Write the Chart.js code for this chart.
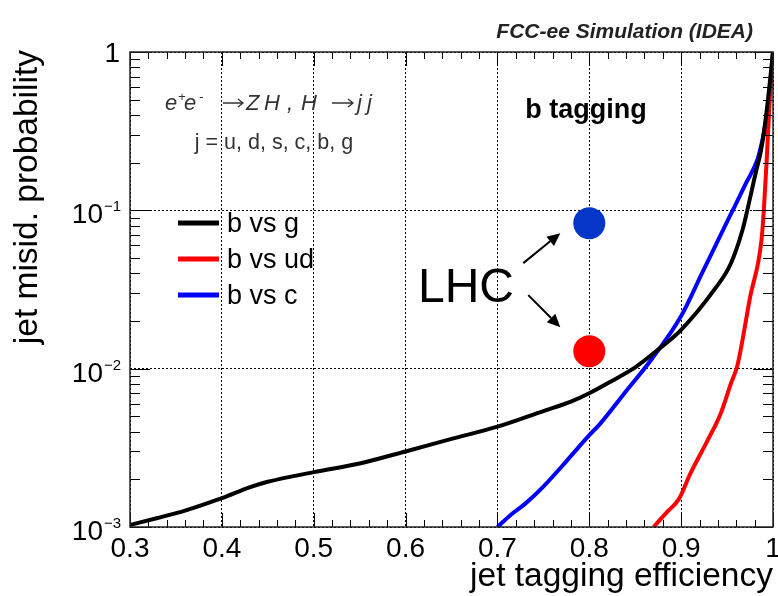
<!DOCTYPE html>
<html>
<head>
<meta charset="utf-8">
<script src="https://cdn.jsdelivr.net/npm/chart.js@4.4.0/dist/chart.umd.min.js"></script>
<style>
  html, body { margin: 0; padding: 0; background: #fff; }
  #wrap { width: 778px; height: 596px; }
</style>
</head>
<body>
<div id="wrap"><canvas id="roc" width="778" height="596"></canvas></div>
<script>
// ROC curves: b-jet efficiency vs. mis-id probability
const effG  = [0.30, 0.33, 0.36, 0.40, 0.43, 0.45, 0.50, 0.55, 0.60, 0.65, 0.70, 0.75, 0.78, 0.80, 0.825, 0.85, 0.875, 0.90, 0.9357, 0.954, 0.9667, 0.972, 0.981, 0.987, 0.993, 1.0];
const misG  = [1.03e-3, 1.14e-3, 1.27e-3, 1.52e-3, 1.78e-3, 1.93e-3, 2.22e-3, 2.52e-3, 3.0e-3, 3.6e-3, 4.3e-3, 5.4e-3, 6.2e-3, 7.0e-3, 8.4e-3, 1.02e-2, 1.32e-2, 1.76e-2, 3.13e-2, 4.6e-2, 7.48e-2, 0.1, 0.171, 0.24, 0.42, 1.0];

const effUD = [0.870, 0.885, 0.8975, 0.910, 0.9285, 0.943, 0.954, 0.9613, 0.9752, 0.9875, 0.990, 0.993, 0.996, 1.0];
const misUD = [1.0e-3, 1.25e-3, 1.5e-3, 2.17e-3, 3.5e-3, 5.2e-3, 8.0e-3, 1.05e-2, 2.85e-2, 6.5e-2, 0.1, 0.2, 0.45, 1.0];

const effC  = [0.70, 0.715, 0.73, 0.75, 0.775, 0.80, 0.812, 0.84, 0.867, 0.90, 0.923, 0.947, 0.959, 0.971, 0.983, 0.988, 0.992, 0.9976, 1.0];
const misC  = [1.0e-3, 1.2e-3, 1.4e-3, 1.8e-3, 2.6e-3, 3.8e-3, 4.5e-3, 7.2e-3, 1.13e-2, 2.15e-2, 4.04e-2, 7.8e-2, 0.108, 0.15, 0.209, 0.27, 0.355, 0.66, 1.0];

// LHC reference working points (b vs c, b vs light)
const lhcEff = [0.8, 0.8];
const lhcMis = [0.083, 0.0129];
const lhcColors = ['#0536c8', '#ff0000'];

const xTicks = [0.3, 0.4, 0.5, 0.6, 0.7, 0.8, 0.9, 1.0];
const yTicks = [1e-3, 1e-2, 1e-1, 1];
const yExp   = [-3, -2, -1, 0];

const FONT = '"Liberation Sans", Arial, Helvetica, sans-serif';

function toPoints(xs, ys) {
  return xs.map((x, i) => ({ x: x, y: ys[i] }));
}

function curve(label, xs, ys, color) {
  return {
    type: 'line',
    label: label,
    data: toPoints(xs, ys),
    borderColor: color,
    backgroundColor: color,
    borderWidth: 4,
    pointRadius: 0,
    cubicInterpolationMode: 'monotone',
    fill: false
  };
}

// frame with ROOT-style inward ticks, tick labels and all the annotations
const rootFrame = {
  id: 'rootFrame',
  afterDatasetsDraw(chart) {
    const ctx = chart.ctx;
    const a = chart.chartArea;
    const xs = chart.scales.x, ys = chart.scales.y;
    ctx.save();
    ctx.strokeStyle = '#000';
    ctx.lineWidth = 1;
    ctx.beginPath();
    // x ticks every 0.02, longer every 0.1
    for (let i = 0; i <= 35; i++) {
      const v = 0.3 + i * 0.02;
      const px = Math.round(xs.getPixelForValue(v)) + 0.5;
      const len = (i % 5 === 0) ? 14 : 7;
      ctx.moveTo(px, a.bottom); ctx.lineTo(px, a.bottom - len);
      ctx.moveTo(px, a.top); ctx.lineTo(px, a.top + len);
    }
    // y ticks at 1..9 x 10^n
    for (let e = -3; e <= 0; e++) {
      for (let m = 1; m <= 9; m++) {
        const v = m * Math.pow(10, e);
        if (v > 1) break;
        const py = Math.round(ys.getPixelForValue(v)) + 0.5;
        const len = (m === 1) ? 20 : 10;
        ctx.moveTo(a.left, py); ctx.lineTo(a.left + len, py);
        ctx.moveTo(a.right, py); ctx.lineTo(a.right - len, py);
      }
    }
    ctx.stroke();
    ctx.lineWidth = 1.5;
    ctx.strokeStyle = '#222';
    ctx.strokeRect(a.left, a.top, a.right - a.left, a.bottom - a.top);
    ctx.restore();
  },
  afterDraw(chart) {
    const ctx = chart.ctx;
    const xs = chart.scales.x, ys = chart.scales.y;
    ctx.save();
    ctx.fillStyle = '#000';

    // x tick labels
    ctx.font = '28px ' + FONT;
    ctx.textAlign = 'center';
    ctx.textBaseline = 'alphabetic';
    xTicks.forEach(v => {
      ctx.fillText(String(+v.toFixed(1)), xs.getPixelForValue(v), 557);
    });

    // y tick labels 10^n
    yTicks.forEach((v, i) => {
      const py = ys.getPixelForValue(v);
      ctx.font = '28px ' + FONT;
      ctx.textAlign = 'right';
      if (yExp[i] === 0) {
        ctx.fillText('1', 120, py + 10);
      } else {
        ctx.fillText('10', 103, py + 13);
        ctx.font = '15px ' + FONT;
        ctx.textAlign = 'left';
        ctx.fillText('\u2212' + Math.abs(yExp[i]), 104, py + 1);
      }
    });

    // axis titles
    ctx.font = '33.5px ' + FONT;
    ctx.textAlign = 'right';
    ctx.fillText('jet tagging efficiency', 773, 586);
    ctx.save();
    ctx.translate(37, 50);
    ctx.rotate(-Math.PI / 2);
    ctx.fillText('jet misid. probability', 0, 0);
    ctx.restore();

    // header and labels
    ctx.fillStyle = '#222';
    ctx.font = 'italic bold 21px ' + FONT;
    ctx.textAlign = 'right';
    ctx.fillText('FCC-ee Simulation (IDEA)', 753, 38);
    ctx.fillStyle = '#000';
    ctx.font = 'bold 27px ' + FONT;
    ctx.textAlign = 'center';
    ctx.fillText('b tagging', 586, 118);

    // process line: e+e- -> Z H , H -> j j
    const it = 'italic 22px ' + FONT, sup = 'italic 13px ' + FONT;
    const pieces = [
      ['e', 165, 110, it], ['+', 178, 101, sup], ['e', 184, 110, it], ['-', 199, 101, sup],
      ['Z', 246, 110, it], ['H', 264, 110, it], [',', 287, 110, it],
      ['H', 301, 110, it], ['j', 357, 110, it], ['j', 367, 110, it]
    ];
    ctx.fillStyle = '#333';
    ctx.textAlign = 'left';
    pieces.forEach(p => { ctx.font = p[3]; ctx.fillText(p[0], p[1], p[2]); });
    thinArrow(ctx, 223, 243, 103);
    thinArrow(ctx, 332, 353, 103);
    ctx.font = '21.5px ' + FONT;
    ctx.textAlign = 'center';
    ctx.fillText('j = u, d, s, c, b, g', 274, 149);

    // legend
    ctx.fillStyle = '#000';
    ctx.font = '27px ' + FONT;
    ctx.textAlign = 'left';
    chart.data.datasets.slice(0, 3).forEach((ds, i) => {
      const y = 223 + i * 36;
      ctx.strokeStyle = ds.borderColor;
      ctx.lineWidth = 5;
      ctx.beginPath();
      ctx.moveTo(178, y); ctx.lineTo(219, y);
      ctx.stroke();
      ctx.fillText(ds.label, 227, y + 9);
    });

    // LHC label with arrows to the working points
    ctx.font = '48px ' + FONT;
    ctx.fillText('LHC', 418, 302);
    const pb = { x: xs.getPixelForValue(lhcEff[0]), y: ys.getPixelForValue(lhcMis[0]) };
    const pr = { x: xs.getPixelForValue(lhcEff[1]), y: ys.getPixelForValue(lhcMis[1]) };
    arrow(ctx, pb.x - 66, pb.y + 40, pb.x - 29, pb.y + 10);
    arrow(ctx, pr.x - 61, pr.y - 56, pr.x - 29, pr.y - 24);
    ctx.restore();
  }
};

// TLatex-like \rightarrow
function thinArrow(ctx, x0, x1, y) {
  ctx.save();
  ctx.strokeStyle = '#333';
  ctx.lineWidth = 1.3;
  ctx.beginPath();
  ctx.moveTo(x0, y); ctx.lineTo(x1, y);
  ctx.moveTo(x1 - 5, y - 4); ctx.lineTo(x1, y); ctx.lineTo(x1 - 5, y + 4);
  ctx.stroke();
  ctx.restore();
}

function arrow(ctx, x0, y0, x1, y1) {
  const ang = Math.atan2(y1 - y0, x1 - x0);
  const hl = 13, hw = 6;
  const bx = x1 - hl * Math.cos(ang), by = y1 - hl * Math.sin(ang);
  ctx.strokeStyle = '#000';
  ctx.fillStyle = '#000';
  ctx.lineWidth = 2;
  ctx.beginPath();
  ctx.moveTo(x0, y0); ctx.lineTo(bx, by);
  ctx.stroke();
  ctx.beginPath();
  ctx.moveTo(x1, y1);
  ctx.lineTo(bx + hw * Math.sin(ang), by - hw * Math.cos(ang));
  ctx.lineTo(bx - hw * Math.sin(ang), by + hw * Math.cos(ang));
  ctx.closePath();
  ctx.fill();
}

new Chart(document.getElementById('roc'), {
  type: 'line',
  data: {
    datasets: [
      curve('b vs g', effG, misG, '#000000'),
      curve('b vs ud', effUD, misUD, '#ff0000'),
      curve('b vs c', effC, misC, '#0000ff'),
      {
        type: 'scatter',
        label: 'LHC',
        data: toPoints(lhcEff, lhcMis),
        pointRadius: 16,
        pointBackgroundColor: lhcColors,
        pointBorderWidth: 0,
        borderWidth: 0
      }
    ]
  },
  options: {
    responsive: false,
    devicePixelRatio: 1,
    animation: false,
    layout: { autoPadding: false, padding: { left: 130, top: 52, right: 5, bottom: 69 } },
    plugins: { legend: { display: false }, tooltip: { enabled: false } },
    scales: {
      x: {
        type: 'linear',
        min: 0.3,
        max: 1.0,
        ticks: { display: false, stepSize: 0.1 },
        grid: { color: '#000', lineWidth: 1, drawTicks: false },
        border: { display: false, dash: [2, 2] }
      },
      y: {
        type: 'logarithmic',
        min: 1e-3,
        max: 1,
        afterBuildTicks: scale => { scale.ticks = yTicks.map(v => ({ value: v })); },
        ticks: { display: false },
        grid: { color: '#000', lineWidth: 1, drawTicks: false },
        border: { display: false, dash: [2, 2] }
      }
    }
  },
  plugins: [rootFrame]
});
</script>
</body>
</html>
